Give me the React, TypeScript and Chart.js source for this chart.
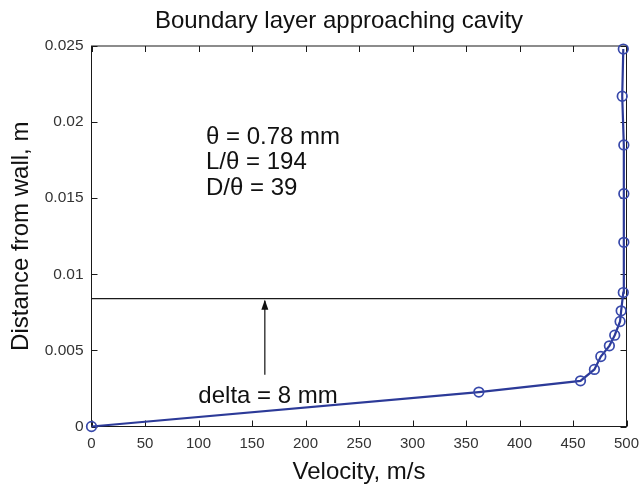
import { useEffect, useRef } from "react";
import { Chart, registerables } from "chart.js";

Chart.register(...registerables);

// Measured velocity profile (m/s) against distance from the wall (m)
const velocity = [0, 362, 457, 470, 476, 484, 489, 494, 495, 497, 497.5, 497.5, 497.5, 496, 497];
const distance = [0, 0.00226, 0.003, 0.00375, 0.0046, 0.0053, 0.006, 0.0069, 0.0076, 0.0088, 0.0121, 0.0153, 0.0185, 0.0217, 0.0248];

const xTicks = [0, 50, 100, 150, 200, 250, 300, 350, 400, 450, 500];
const xTickLabels = ["0", "50", "100", "150", "200", "250", "300", "350", "400", "450", "500"];
const yTicks = [0, 0.005, 0.01, 0.015, 0.02, 0.025];
const yTickLabels = ["0", "0.005", "0.01", "0.015", "0.02", "0.025"];

// Boundary layer edge (delta)
const deltaLineX = [0, 500];
const deltaHeight = 0.0084;
const arrowX = 162;
const arrowTail = 0.0034;

const chartTitle = "Boundary layer approaching cavity";
const infoLines = ["\u03b8 = 0.78 mm", "L/\u03b8 = 194", "D/\u03b8 = 39"];
const deltaLabel = "delta = 8 mm";

const FONT = "'Liberation Sans', Arial, sans-serif";
const LINE_BLUE = "#2c3a98";
const MARK_BLUE = "#3748aa";

const frameAndNotes = {
  id: "frameAndNotes",
  beforeDatasetsDraw(chart: any) {
    const { ctx, chartArea: a, scales } = chart;
    const x = scales.x;
    const y = scales.y;
    ctx.save();
    ctx.strokeStyle = "#1a1a1a";
    ctx.lineWidth = 1;
    ctx.strokeRect(a.left, a.top, a.right - a.left, a.bottom - a.top);
    ctx.beginPath();
    const len = 6;
    x.ticks.forEach((t: any) => {
      const px = Math.round(x.getPixelForValue(t.value)) + 0.5;
      ctx.moveTo(px, a.bottom);
      ctx.lineTo(px, a.bottom - len);
      ctx.moveTo(px, a.top);
      ctx.lineTo(px, a.top + len);
    });
    y.ticks.forEach((t: any) => {
      const py = Math.round(y.getPixelForValue(t.value)) + 0.5;
      ctx.moveTo(a.left, py);
      ctx.lineTo(a.left + len, py);
      ctx.moveTo(a.right, py);
      ctx.lineTo(a.right - len, py);
    });
    ctx.stroke();

    // title, centred a little left of the plot centre
    ctx.fillStyle = "#111";
    ctx.font = `24px ${FONT}`;
    ctx.textAlign = "center";
    ctx.textBaseline = "middle";
    ctx.fillText(chartTitle, 339, 21);
    ctx.restore();
  },
  afterDatasetsDraw(chart: any) {
    const { ctx, scales } = chart;
    const x = scales.x;
    const y = scales.y;
    ctx.save();
    // arrow pointing at the boundary layer edge
    const ax = x.getPixelForValue(arrowX);
    const headY = y.getPixelForValue(deltaHeight);
    const tailY = y.getPixelForValue(arrowTail);
    ctx.strokeStyle = "#111";
    ctx.fillStyle = "#111";
    ctx.lineWidth = 1.2;
    ctx.beginPath();
    ctx.moveTo(ax, tailY);
    ctx.lineTo(ax, headY + 2);
    ctx.stroke();
    ctx.beginPath();
    ctx.moveTo(ax, headY + 1);
    ctx.lineTo(ax - 3.5, headY + 11);
    ctx.lineTo(ax + 3.5, headY + 11);
    ctx.closePath();
    ctx.fill();

    ctx.font = `24px ${FONT}`;
    ctx.textBaseline = "middle";
    ctx.textAlign = "left";
    const tx = x.getPixelForValue(107);
    const ty = y.getPixelForValue(0.019);
    infoLines.forEach((s, i) => ctx.fillText(s, tx, ty + i * 25.5));

    ctx.textAlign = "center";
    ctx.fillText(deltaLabel, x.getPixelForValue(165), y.getPixelForValue(0.002));
    ctx.restore();
  },
};

export default function App() {
  const ref = useRef<HTMLCanvasElement | null>(null);

  useEffect(() => {
    document.body.style.margin = "0";
    const canvas = ref.current;
    if (!canvas) return;
    const chart = new Chart(canvas, {
      type: "scatter",
      data: {
        datasets: [
          {
            data: velocity.map((v, i) => ({ x: v, y: distance[i] })),
            showLine: true,
            borderColor: LINE_BLUE,
            borderWidth: 2.2,
            pointRadius: 4.8,
            pointBorderWidth: 1.7,
            pointBorderColor: MARK_BLUE,
            pointBackgroundColor: "rgba(0,0,0,0)",
            clip: false as any,
          },
          {
            data: deltaLineX.map((v) => ({ x: v, y: deltaHeight })),
            showLine: true,
            borderColor: "#1a1a1a",
            borderWidth: 1.2,
            pointRadius: 0,
          },
        ],
      },
      options: {
        animation: false,
        responsive: false,
        layout: { padding: { top: 46, right: 17.5, bottom: 0, left: 0 } },
        plugins: {
          legend: { display: false },
          tooltip: { enabled: false },
          title: { display: false },
        },
        scales: {
          x: {
            type: "linear",
            min: 0,
            max: 500,
            afterBuildTicks: (s: any) => {
              s.ticks = xTicks.map((v) => ({ value: v }));
            },
            afterFit: (s: any) => {
              s.height = 62.5;
              s.paddingLeft = 0;
              s.paddingRight = 0;
            },
            grid: { display: false, drawTicks: false },
            border: { display: false },
            ticks: {
              color: "#333",
              font: { family: FONT, size: 15 },
              padding: 8,
              maxRotation: 0,
              autoSkip: false,
              callback: (v: any) => xTickLabels[xTicks.indexOf(Number(v))] ?? "",
            },
            title: {
              display: true,
              text: "Velocity, m/s",
              color: "#111",
              font: { family: FONT, size: 24 },
              padding: { top: 0, bottom: 2 },
            },
          },
          y: {
            type: "linear",
            min: 0,
            max: 0.025,
            afterBuildTicks: (s: any) => {
              s.ticks = yTicks.map((v) => ({ value: v }));
            },
            afterFit: (s: any) => {
              s.width = 91.5;
              s.paddingTop = 0;
              s.paddingBottom = 0;
            },
            grid: { display: false, drawTicks: false },
            border: { display: false },
            ticks: {
              color: "#333",
              font: { family: FONT, size: 15.5 },
              padding: 8,
              autoSkip: false,
              callback: (v: any) => {
                const i = yTicks.findIndex((t) => Math.abs(t - Number(v)) < 1e-9);
                return i >= 0 ? yTickLabels[i] : "";
              },
            },
            title: {
              display: true,
              text: "Distance from wall, m",
              color: "#111",
              font: { family: FONT, size: 24 },
              padding: { top: 7, bottom: 0 },
            },
          },
        },
      },
      plugins: [frameAndNotes],
    });
    return () => chart.destroy();
  }, []);

  return <canvas ref={ref} width={644} height={489} style={{ display: "block" }} />;
}
